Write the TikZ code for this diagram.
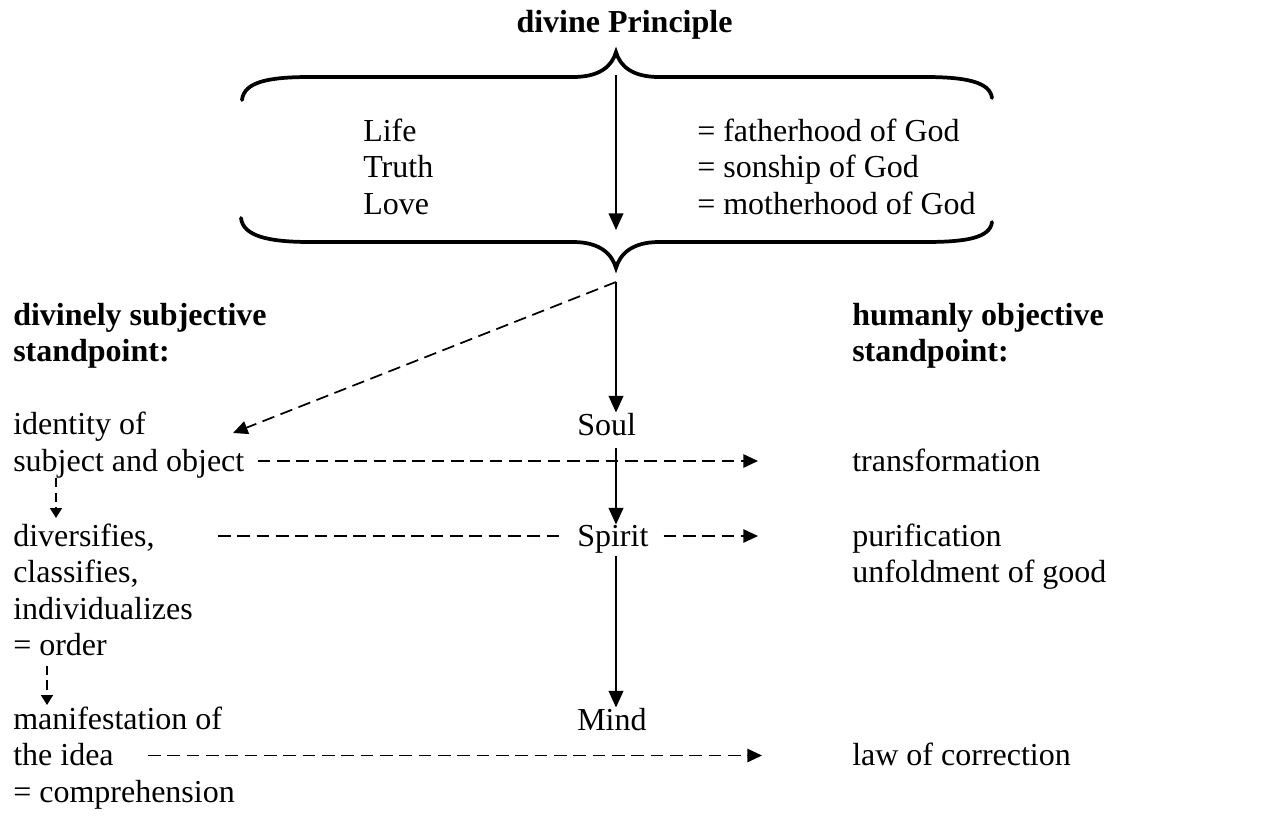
\documentclass[tikz,border=0pt]{standalone}
\usepackage{fontspec}
\setmainfont{Liberation Serif}
\usetikzlibrary{arrows.meta,calc}
\begin{document}
\begin{tikzpicture}[x=0.75pt,y=-0.75pt,
  txt/.style={font=\fontsize{24}{28}\selectfont, inner sep=0pt, anchor=base west},
  hd/.style={txt, font=\fontsize{24}{28}\selectfont\bfseries},
  bracepath/.style={line width=2.8pt, line cap=round},
  solidarr/.style={line width=1.3pt, -{Triangle[length=12.5pt,width=11pt]}},
  dasharr/.style={line width=1.3pt, dash pattern=on 9.5pt off 5pt, -{Triangle[length=11pt,width=10pt]}},
  dashsmall/.style={line width=1.3pt, dash pattern=on 7pt off 4pt, -{Triangle[length=7.5pt,width=9pt]}},
  dashline/.style={line width=1.3pt, dash pattern=on 9.5pt off 5pt}]
\useasboundingbox (0,0) rectangle (1273,832);

% braces
\draw[bracepath] (242,100) .. controls (244,82) and (268,77) .. (310,77) -- (573,77)
  .. controls (600,77) and (612,66) .. (616,52)
  .. controls (620,66) and (632,77) .. (659,77) -- (925,77)
  .. controls (966,77) and (990,82) .. (992,98);
\draw[bracepath] (241,218) .. controls (243,236) and (268,242) .. (310,242) -- (573,242)
  .. controls (600,242) and (612,254) .. (616,268)
  .. controls (620,254) and (632,242) .. (659,242) -- (925,242)
  .. controls (966,242) and (990,238) .. (992,222);

\coordinate (topA) at (616,75);
\coordinate (topB) at (616,230);
\coordinate (bt) at (616,282);
\coordinate (idTip) at (233,433);

% texts
\node[hd, anchor=base] (title) at (624.5,32) {divine Principle};
\node[txt] (life) at (363,141) {Life};
\node[txt] (truth) at (363,177) {Truth};
\node[txt] (love) at (363,214) {Love};
\node[txt] (father) at (697,141) {= fatherhood of God};
\node[txt] (son) at (697,177) {= sonship of God};
\node[txt] (mother) at (697,214) {= motherhood of God};
\node[hd] (ds1) at (13,325) {divinely subjective};
\node[hd] (ds2) at (13,361) {standpoint:};
\node[hd] (ho1) at (852,325) {humanly objective};
\node[hd] (ho2) at (852,361) {standpoint:};
\node[txt] (id1) at (13,434) {identity of};
\node[txt] (id2) at (13,471) {subject and object};
\node[txt] (soul) at (577,435) {Soul};
\node[txt] (transf) at (852,471) {transformation};
\node[txt] (dv1) at (13,546) {diversifies,};
\node[txt] (dv2) at (13,582.5) {classifies,};
\node[txt] (dv3) at (13,619) {individualizes};
\node[txt] (dv4) at (13,655.5) {= order};
\node[txt] (spirit) at (577,546) {Spirit};
\node[txt] (pur1) at (852,546) {purification};
\node[txt] (pur2) at (852,582.5) {unfoldment of good};
\node[txt] (mf1) at (13,729) {manifestation of};
\node[txt] (mf2) at (13,765.5) {the idea};
\node[txt] (mf3) at (13,802) {= comprehension};
\node[txt] (mind) at (577,730) {Mind};
\node[txt] (law) at (852,765.5) {law of correction};

% connectors
\draw[solidarr] (topA) -- (topB);
\draw[solidarr] (bt) -- (soul.north -| bt);
\draw[dasharr] (bt) -- (idTip);
\draw[dasharr] ($(id2.base east)+(13,-10)$) -- ($(transf.base west)+(-94,-10)$);
\draw[solidarr] ($(soul.base -| bt)+(0,13)$) -- (spirit.north -| bt);
\draw[solidarr] ($(spirit.base -| bt)+(0,10)$) -- (mind.north -| bt);
\draw[dashline] ($(dv1.base east)+(63,-10)$) -- ($(spirit.base west)+(-15,-10)$);
\draw[dasharr] ($(spirit.base east)+(15,-10)$) -- ($(pur1.base west)+(-94,-10)$);
\draw[dasharr] ($(mf2.base east)+(34,-10)$) -- ($(law.base west)+(-90,-10)$);
\draw[dashsmall] ($(id2.base west)+(43,7)$) -- ($(dv1.base west)+(43,-28)$);
\draw[dashsmall] ($(dv4.base west)+(34,10)$) -- ($(mf1.base west)+(34,-24)$);
\end{tikzpicture}
\end{document}
